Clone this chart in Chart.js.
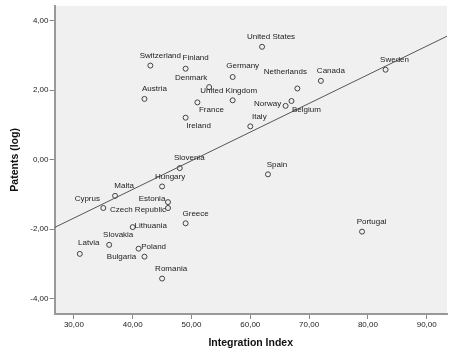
<!DOCTYPE html>
<html>
<head>
<meta charset="utf-8">
<script src="https://cdn.jsdelivr.net/npm/chart.js@4/dist/chart.umd.min.js"></script>
<style>
  body { margin: 0; background: #fff; }
  #wrap { width: 453px; height: 363px; }
</style>
</head>
<body>
<div id="wrap"><canvas id="myChart" width="453" height="363"></canvas></div>
<script>
// Countries with their integration index and log patents
const countries = ["United States", "Switzerland", "Finland", "Denmark", "Austria", "France",
  "Ireland", "Slovenia", "Germany", "United Kingdom", "Netherlands", "Canada", "Sweden",
  "Norway", "Belgium", "Italy", "Spain", "Hungary", "Malta", "Cyprus", "Estonia",
  "Czech Republic", "Greece", "Lithuania", "Slovakia", "Latvia", "Poland", "Bulgaria",
  "Romania", "Portugal"];
const integration = [62, 43, 49, 53, 42, 51, 49, 48, 57, 57, 68, 72, 83, 66, 67, 60, 63,
  45, 37, 35, 46, 46, 49, 40, 36, 31, 41, 42, 45, 79];
const patents = [3.25, 2.71, 2.62, 2.09, 1.75, 1.65, 1.21, -0.24, 2.38, 1.71, 2.05, 2.27,
  2.59, 1.55, 1.69, 0.96, -0.42, -0.77, -1.04, -1.39, -1.22, -1.39, -1.83, -1.94, -2.45,
  -2.71, -2.56, -2.79, -3.42, -2.07];

// Where each label sits relative to its point (text centre, px)
const labelDx = [9, 10, 10, -18, 10, 14, 13, 9.5, 10, -4, -12, 10, 9, -18, 15, 9, 9,
  8, 9, -16, -16, -30, 10, 18, 9, 9, 15, -23, 9, 9.5];
const labelDy = [-10, -10, -11, -9, -10, 7, 8, -10, -11, -10, -17, -10, -10, -2, 9, -10, -10,
  -10, -10, -9, -3, 2, -10, -1, -10, -11, -2, 0, -10, -10];

const xMin = 26.7, xMax = 93.45;
const yMin = -4.44, yMax = 4.43;

// Least squares fit line
const n = integration.length;
const mx = integration.reduce((s, v) => s + v, 0) / n;
const my = patents.reduce((s, v) => s + v, 0) / n;
let sxy = 0, sxx = 0;
integration.forEach((x, i) => {
  sxy += (x - mx) * (patents[i] - my);
  sxx += (x - mx) * (x - mx);
});
const slope = sxy / sxx;
const intercept = my - slope * mx;

const points = integration.map((x, i) => ({ x: x, y: patents[i] }));
const fitLine = [xMin, xMax].map(x => ({ x: x, y: intercept + slope * x }));

const fmt = v => v.toFixed(2).replace('.', ',');

const plotBg = {
  id: 'plotBg',
  beforeDraw(chart) {
    const { ctx, chartArea: a } = chart;
    ctx.save();
    ctx.fillStyle = '#f0f0f0';
    ctx.fillRect(a.left, a.top, a.right - a.left, a.bottom - a.top);
    ctx.restore();
  }
};

const pointLabels = {
  id: 'pointLabels',
  afterDatasetsDraw(chart) {
    const ctx = chart.ctx;
    const meta = chart.getDatasetMeta(1);
    ctx.save();
    ctx.font = '8px "Liberation Sans", Arial, sans-serif';
    ctx.fillStyle = '#222';
    ctx.textAlign = 'center';
    ctx.textBaseline = 'middle';
    meta.data.forEach((el, i) => {
      ctx.fillText(countries[i], el.x + labelDx[i], el.y + labelDy[i]);
    });
    ctx.restore();
  }
};

new Chart("myChart", {
  data: {
    datasets: [{
      type: 'line',
      data: fitLine,
      borderColor: '#555',
      borderWidth: 1,
      pointRadius: 0
    }, {
      type: 'scatter',
      data: points,
      borderColor: '#444',
      backgroundColor: 'rgba(0,0,0,0)',
      borderWidth: 1,
      pointRadius: 2.5
    }]
  },
  options: {
    responsive: false,
    animation: false,
    layout: { padding: { top: 5, right: 6, left: 0, bottom: 0 } },
    plugins: { legend: { display: false }, tooltip: { enabled: false } },
    scales: {
      x: {
        type: 'linear',
        position: 'bottom',
        min: xMin,
        max: xMax,
        afterFit(scale) { scale.height = 49; },
        grid: { drawOnChartArea: false, drawTicks: true, tickLength: 5, color: '#888' },
        border: { display: true, color: '#999', width: 2 },
        ticks: {
          stepSize: 10,
          includeBounds: false,
          padding: 1,
          color: '#222',
          font: { family: '"Liberation Sans", Arial, sans-serif', size: 8 },
          callback: v => fmt(v)
        },
        title: {
          display: true,
          text: 'Integration Index',
          color: '#111',
          padding: { top: 0, bottom: 13.4 },
          font: { family: '"Liberation Sans", Arial, sans-serif', size: 10.5, weight: 'bold' }
        }
      },
      y: {
        type: 'linear',
        min: yMin,
        max: yMax,
        afterFit(scale) { scale.width = 54.5; },
        grid: { drawOnChartArea: false, drawTicks: true, tickLength: 5, color: '#888' },
        border: { display: true, color: '#999', width: 2 },
        ticks: {
          stepSize: 2,
          includeBounds: false,
          padding: 1,
          color: '#222',
          font: { family: '"Liberation Sans", Arial, sans-serif', size: 8 },
          callback: v => fmt(v)
        },
        title: {
          display: true,
          text: 'Patents (log)',
          color: '#111',
          padding: { top: 8.7, bottom: 0 },
          font: { family: '"Liberation Sans", Arial, sans-serif', size: 10.5, weight: 'bold' }
        }
      }
    }
  },
  plugins: [plotBg, pointLabels]
});
</script>
</body>
</html>
